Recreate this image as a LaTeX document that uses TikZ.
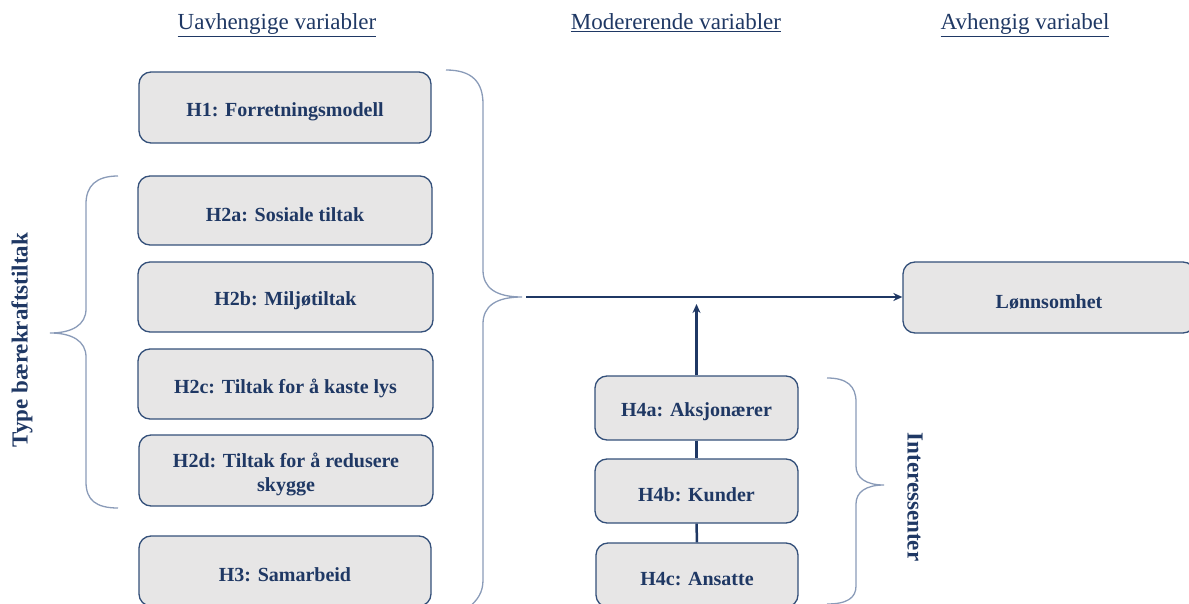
\documentclass[tikz,border=0pt]{standalone}
\usepackage{fontspec}
\setmainfont{Liberation Serif}
\usetikzlibrary{arrows.meta}
\definecolor{navy}{HTML}{1F3864}
\definecolor{bord}{HTML}{34507A}
\definecolor{boxfill}{HTML}{E7E6E6}
\definecolor{brace}{HTML}{8A9BB8}
\tikzset{
  hbox/.style={draw=bord, line width=1.3pt, fill=boxfill, rounded corners=12pt, inner sep=0pt},
  htext/.style={text=navy, font=\bfseries\fontsize{20}{24}\selectfont, align=center, inner sep=0pt},
  header/.style={text=navy, font=\fontsize{23}{27}\selectfont},
  sidelabel/.style={text=navy, font=\bfseries\fontsize{23}{27}\selectfont},
  bracestyle/.style={draw=brace, line width=1.3pt},
  conn/.style={draw=navy, line width=2.5pt},
  arr/.style={conn, -{Stealth[length=9pt,width=8pt]}}
}
\newcommand{\hbx}[6]{% name, x1, y1, x2, y2, text
  \node[hbox, minimum width={(#4-#2)*1pt}, minimum height={(#5-#3)*1pt}] (#1) at ({(#2+#4)/2},{(#3+#5)/2}) {};
  \node[htext] (#1t) at ([yshift=-4pt]#1.center) {#6};}
\begin{document}
\begin{tikzpicture}[x=1pt,y=-1pt]
\useasboundingbox (0,0) rectangle (1189,604);
% headers
\node[header] (hu) at (277,25) {\underline{Uavhengige variabler}};
\node[header] (hm) at (676,23) {\underline{Modererende variabler}};
\node[header] (ha) at (1025,25) {\underline{Avhengig variabel}};
% left boxes
\hbx{h1}{139}{72}{431}{143}{H1: Forretningsmodell}
\hbx{h2a}{138}{176}{432}{245}{H2a: Sosiale tiltak}
\hbx{h2b}{138}{262}{433}{332}{H2b: Miljøtiltak}
\hbx{h2c}{138}{349}{433}{419}{H2c: Tiltak for å kaste lys}
\hbx{h2d}{139}{435}{433}{506}{H2d: Tiltak for å redusere\\skygge}
\hbx{h3}{139}{536}{431}{606}{H3: Samarbeid}
% dependent
\hbx{lo}{903}{262}{1195}{333}{Lønnsomhet}
% moderators
\hbx{h4a}{595}{376}{798}{440}{H4a: Aksjonærer}
\hbx{h4b}{595}{459}{798}{523}{H4b: Kunder}
\hbx{h4c}{596}{543}{798}{607}{H4c: Ansatte}
% side labels
\node[sidelabel, rotate=90] (tb) at (22,340) {Type bærekraftstiltak};
\node[sidelabel, rotate=-90] (ie) at (915,497) {Interessenter};
% braces
\coordinate (bt) at (522,297);
\path[bracestyle] (446,70) .. controls (472,70) and (483,82) .. (483,104) -- (483,270)
  .. controls (483,288) and (496,297) .. (bt) .. controls (496,297) and (483,306) .. (483,324)
  -- (483,580) .. controls (483,592) and (478,600) .. (468,608);
\coordinate (lt) at (50,333);
\path[bracestyle] (118,176) .. controls (96,176) and (86,186) .. (86,204) -- (86,309)
  .. controls (86,325) and (72,333) .. (lt) .. controls (72,333) and (86,341) .. (86,357)
  -- (86,482) .. controls (86,500) and (96,508) .. (118,508);
\coordinate (rt) at (884,485);
\path[bracestyle] (827,378) .. controls (847,378) and (856,386) .. (856,402) -- (856,466)
  .. controls (856,478) and (866,485) .. (rt) .. controls (866,485) and (856,492) .. (856,504)
  -- (856,586) .. controls (856,598) and (847,604) .. (827,604);
% connectors
\coordinate (hs) at (526,297);
\coordinate (vt) at (h4a.north |- 0,304);
\draw[arr] (hs) -- (lo.west |- hs);
\draw[arr] (h4a.north) -- (vt);
\draw[conn] (h4a.south) -- (h4b.north);
\draw[conn] (h4b.south) -- (h4c.north);
\end{tikzpicture}
\end{document}
